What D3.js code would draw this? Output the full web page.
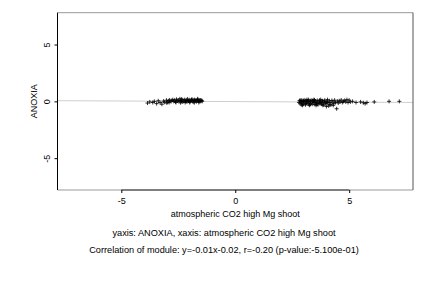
<!DOCTYPE html>
<html><head><meta charset="utf-8">
<script src="https://cdn.jsdelivr.net/npm/d3@7"></script>
<style>body{margin:0;background:#fff}svg{display:block}text{font-family:"Liberation Sans",Arial,sans-serif;font-size:9px;fill:#000}</style>
</head><body><svg id="c" width="432" height="288"></svg>
<script>
const xTicks = [-5, 0, 5];
const yTicks = [-5, 0, 5];
const xLabel = "atmospheric CO2 high Mg shoot";
const yLabel = "ANOXIA";
const line3 = "yaxis: ANOXIA, xaxis: atmospheric CO2 high Mg shoot";
const line4 = "Correlation of module: y=-0.01x-0.02, r=-0.20 (p-value:-5.100e-01)";
const slope = -0.01, intercept = -0.02;
const x1 = [-3.85,-3.75,-3.62,-3.55,-3.45,-3.38,-3.3,-3.22,-3.15,-3.1,-3.02,-2.98,-2.92,-2.88,-2.82,-2.78,-2.74,-2.7,-2.66,-2.62,-2.58,-2.55,-2.5,-2.47,-2.43,-2.4,-2.36,-2.33,-2.3,-2.26,-2.22,-2.18,-2.15,-2.12,-2.08,-2.05,-2.02,-1.98,-1.95,-1.92,-1.88,-1.85,-1.82,-1.79,-1.76,-1.73,-1.7,-1.67,-1.64,-1.61,-1.58,-1.55,-1.52,-1.5,-1.47,-1.45,-2.6,-2.4,-2.2,-2.0,-1.8,-1.6,-2.9,-3.0,-2.35,-2.1,-1.9,-1.65];
const y1 = [-0.15,-0.05,-0.1,0.0,-0.2,0.05,-0.1,-0.25,0.02,-0.08,0.1,-0.05,0.05,0.12,-0.02,0.08,0.15,0.0,0.1,-0.05,0.18,0.05,0.1,-0.02,0.22,0.08,0.0,0.12,-0.06,0.05,0.15,0.0,0.1,-0.05,0.08,0.02,0.14,-0.03,0.06,0.12,0.0,0.09,-0.04,0.15,0.04,0.1,-0.02,0.07,0.16,0.02,0.1,-0.03,0.12,0.05,0.08,0.0,-0.1,-0.12,-0.1,-0.1,-0.12,-0.1,-0.1,-0.15,0.2,0.2,0.2,0.22];
const x2 = [2.8,2.82,2.85,2.88,2.9,2.92,2.95,2.98,3.0,3.02,3.05,3.08,3.1,3.13,3.16,3.2,3.22,3.25,3.28,3.3,3.33,3.36,3.4,3.42,3.45,3.48,3.5,3.53,3.56,3.6,3.63,3.66,3.7,3.73,3.76,3.8,3.83,3.86,3.9,3.93,3.96,4.0,4.03,4.06,4.1,4.13,4.16,4.2,4.24,4.28,4.32,4.36,4.4,4.45,4.48,4.52,4.56,4.6,4.65,4.7,4.75,4.8,4.85,4.9,4.95,5.0,5.05,5.15,5.3,5.5,5.62,5.7,5.78,6.1,6.75,7.2,2.9,3.0,3.1,3.2,3.3,3.4,3.5,3.6,3.7,3.8,3.9,4.0,2.85,3.15,3.45,3.75,4.05,2.95,3.25,3.55,3.85,4.15,4.3];
const y2 = [-0.1,0.05,-0.2,0.0,-0.3,0.1,-0.15,0.02,-0.25,0.12,-0.05,-0.3,0.08,-0.12,0.0,-0.22,0.15,-0.05,-0.3,0.05,-0.15,0.1,-0.25,0.0,-0.1,0.12,-0.28,0.02,-0.15,0.08,-0.3,-0.05,0.1,-0.2,0.0,-0.12,0.05,-0.3,-0.08,0.1,-0.2,-0.45,0.0,-0.15,-0.4,0.05,-0.1,-0.3,0.08,-0.05,-0.2,0.1,-0.1,-0.65,0.02,-0.15,0.05,-0.05,0.12,-0.1,0.0,0.08,-0.05,0.15,-0.1,0.1,-0.05,0.0,-0.1,-0.05,-0.12,-0.2,-0.1,-0.05,0.0,0.0,-0.05,0.0,-0.2,0.0,-0.2,0.05,-0.1,-0.2,-0.1,-0.25,0.02,-0.1,0.1,0.15,0.15,0.15,0.15,-0.35,-0.35,-0.35,-0.35,-0.3,-0.35];

const L = 57.5, R = 413, T = 12.7, B = 190;
const x = d3.scaleLinear().domain([-7.8, 7.8]).range([L, R]);
const y = d3.scaleLinear().domain([-7.8, 7.8]).range([B, T]);
const svg = d3.select("#c");
const fmt = d => String(d);

// regression line
svg.append("line").attr("x1", L).attr("x2", R)
  .attr("y1", y(slope * -7.8 + intercept)).attr("y2", y(slope * 7.8 + intercept))
  .attr("stroke", "#cfcfcf").attr("stroke-width", 1);

// box
svg.append("line").attr("x1", L).attr("x2", R).attr("y1", T).attr("y2", T).attr("stroke", "#999");
svg.append("line").attr("x1", L).attr("x2", R).attr("y1", B).attr("y2", B).attr("stroke", "#999");
svg.append("line").attr("x1", R).attr("x2", R).attr("y1", T).attr("y2", B).attr("stroke", "#555");
svg.append("line").attr("x1", L).attr("x2", L).attr("y1", T).attr("y2", B).attr("stroke", "#000");

// x axis
const xa = svg.append("g").attr("transform", `translate(0,${B})`)
  .call(d3.axisBottom(x).tickValues(xTicks).tickSize(3).tickPadding(5).tickFormat(fmt));
xa.select(".domain").attr("d", `M${x(-5)},0H${x(5)}`).attr("stroke", "#333");
xa.selectAll("text").style("font-size", "9px").attr("font-family", "Liberation Sans, Arial");

// y axis
const ya = svg.append("g").attr("transform", `translate(${L},0)`)
  .call(d3.axisLeft(y).tickValues(yTicks).tickSize(3).tickFormat(fmt));
ya.select(".domain").remove();
ya.selectAll(".tick text").attr("transform", "rotate(-90)").attr("x", 0).attr("y", -8)
  .attr("dy", "0").attr("text-anchor", "middle").style("font-size", "9px");

// points
const pts = x1.map((v, i) => [v, y1[i]]).concat(x2.map((v, i) => [v, y2[i]]));
svg.append("g").selectAll("path").data(pts).join("path")
  .attr("d", d => `M${x(d[0]) - 2},${y(d[1])}h4M${x(d[0])},${y(d[1]) - 2}v4`)
  .attr("stroke", "#000").attr("stroke-width", 0.8).attr("fill", "none");

// labels
svg.append("text").attr("x", (L + R) / 2).attr("y", 217).attr("text-anchor", "middle").text(xLabel);
svg.append("text").attr("transform", `translate(37,${(T + B) / 2}) rotate(-90)`).attr("text-anchor", "middle").text(yLabel);
svg.append("text").attr("x", 224).attr("y", 236).attr("text-anchor", "middle").style("font-size", "9.2px").text(line3);
svg.append("text").attr("x", 224).attr("y", 253).attr("text-anchor", "middle").style("font-size", "9.2px").text(line4);
</script></body></html>
